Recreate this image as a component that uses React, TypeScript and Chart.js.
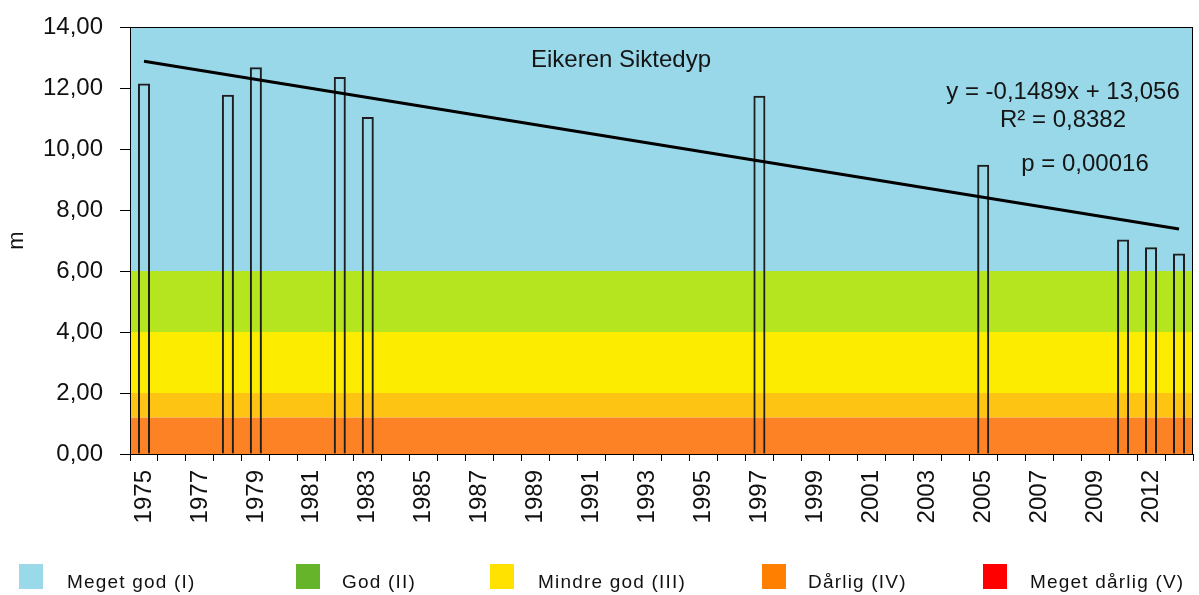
import React, { useEffect, useRef } from 'react';
import { Chart, registerables } from 'chart.js';

Chart.register(...registerables);

const years: string[] = [
  '1975', '1976', '1977', '1978', '1979', '1980', '1981', '1982', '1983', '1984',
  '1985', '1986', '1987', '1988', '1989', '1990', '1991', '1992', '1993', '1994',
  '1995', '1996', '1997', '1998', '1999', '2000', '2001', '2002', '2003', '2004',
  '2005', '2006', '2007', '2008', '2009', '2011', '2012', '2013',
];

const siktedyp: (number | null)[] = [
  12.15, null, null, 11.78, 12.68, null, null, 12.36, 11.05, null,
  null, null, null, null, null, null, null, null, null, null,
  null, null, 11.75, null, null, null, null, null, null, null,
  9.48, null, null, null, null, 7.03, 6.78, 6.57,
];

const trendline: (number | null)[] = [
  12.88, null, null, null, null, null, null, null, null, null,
  null, null, null, null, null, null, null, null, null, null,
  null, null, null, null, null, null, null, null, null, null,
  null, null, null, null, null, null, null, 7.38,
];

const yTicks: number[] = [0, 2, 4, 6, 8, 10, 12, 14];

const classLimits: number[] = [0, 1.2, 2, 4, 6, 14];
const bandColors: string[] = ['#fd8125', '#fdc414', '#fcec00', '#b4e51e', '#99d8e9'];

const legendLabels: string[] = ['Meget god (I)', 'God (II)', 'Mindre god (III)', 'Dårlig (IV)', 'Meget dårlig (V)'];
const legendColors: string[] = ['#99d9ea', '#66b42a', '#ffe200', '#ff8000', '#ff0000'];

const chartTitle = 'Eikeren Siktedyp';
const equationLines: string[] = ['y = -0,1489x + 13,056', 'R² = 0,8382', 'p = 0,00016'];

const FONT = '"Liberation Sans", Arial, sans-serif';

const bandPlugin = {
  id: 'bands',
  beforeDraw(chart: any) {
    const { ctx, chartArea: a, scales } = chart;
    const y = scales.y;
    ctx.save();
    for (let i = 0; i < bandColors.length; i++) {
      const top = y.getPixelForValue(classLimits[i + 1]);
      const bot = y.getPixelForValue(classLimits[i]);
      ctx.fillStyle = bandColors[i];
      ctx.fillRect(a.left, top, a.right - a.left, bot - top);
    }
    ctx.restore();
  },
};

const textPlugin = {
  id: 'texts',
  afterDatasetsDraw(chart: any) {
    const { ctx, chartArea: a } = chart;
    ctx.save();
    ctx.strokeStyle = '#000';
    ctx.lineWidth = 1;
    ctx.strokeRect(a.left + 0.5, a.top + 0.5, a.right - a.left - 1, a.bottom - a.top);
    ctx.fillStyle = '#151515';
    ctx.font = `24px ${FONT}`;
    ctx.textAlign = 'center';
    ctx.textBaseline = 'middle';
    ctx.fillText(chartTitle, 621, 60);
    ctx.fillText(equationLines[0], 1063, 92);
    ctx.fillText(equationLines[1], 1063, 120);
    ctx.fillText(equationLines[2], 1085, 164);
    ctx.restore();
  },
};

const legendPlugin = {
  id: 'customLegend',
  afterDraw(chart: any) {
    const { ctx } = chart;
    const boxX = [19, 296, 490, 762, 983];
    const textX = [67, 342, 538, 808, 1030];
    ctx.save();
    ctx.font = `19px ${FONT}`;
    (ctx as any).letterSpacing = '1.2px';
    ctx.textAlign = 'left';
    ctx.textBaseline = 'alphabetic';
    for (let i = 0; i < legendLabels.length; i++) {
      ctx.fillStyle = legendColors[i];
      ctx.fillRect(boxX[i], 564, 24, 25);
      ctx.fillStyle = '#111';
      ctx.fillText(legendLabels[i], textX[i], 588);
    }
    ctx.restore();
  },
};

export default function App() {
  const canvasRef = useRef<HTMLCanvasElement | null>(null);

  useEffect(() => {
    document.body.style.margin = '0';
    const canvas = canvasRef.current;
    if (!canvas) return;
    const chart = new Chart(canvas, {
      type: 'bar',
      data: {
        labels: years,
        datasets: [
          {
            type: 'line',
            label: 'Trend',
            data: trendline,
            borderColor: '#000',
            borderWidth: 3,
            pointRadius: 0,
            spanGaps: true,
            fill: false,
            order: 0,
          } as any,
          {
            type: 'bar',
            label: 'Siktedyp',
            data: siktedyp,
            backgroundColor: 'rgba(0,0,0,0)',
            borderColor: '#1e1e1e',
            borderWidth: 2,
            barPercentage: 0.43,
            categoryPercentage: 1,
            order: 1,
          } as any,
        ],
      },
      options: {
        animation: false,
        responsive: true,
        maintainAspectRatio: false,
        layout: { padding: { top: 27, right: 6, bottom: 0, left: 0 } },
        plugins: {
          legend: { display: false },
          tooltip: { enabled: false },
          title: { display: false },
        },
        scales: {
          x: {
            offset: true,
            grid: {
              offset: true,
              drawOnChartArea: false,
              drawTicks: true,
              tickLength: 7,
              color: '#000',
            },
            border: { display: true, color: '#000', width: 1 },
            ticks: {
              autoSkip: false,
              minRotation: 90,
              maxRotation: 90,
              padding: 9,
              color: '#111',
              font: { family: FONT, size: 24 },
              callback: (_v: any, i: number) => (i % 2 === 0 ? years[i] : ''),
            },
            afterFit: (scale: any) => {
              scale.height = 141;
              scale.paddingLeft = 0;
              scale.paddingRight = 0;
            },
          },
          y: {
            min: 0,
            max: 14,
            afterBuildTicks: (scale: any) => {
              scale.ticks = yTicks.map((v) => ({ value: v }));
            },
            grid: {
              drawOnChartArea: false,
              drawTicks: true,
              tickLength: 10,
              color: '#000',
            },
            border: { display: true, color: '#000', width: 1 },
            ticks: {
              padding: 17,
              color: '#111',
              font: { family: FONT, size: 24 },
              callback: (v: any) => Number(v).toFixed(2).replace('.', ','),
            },
            title: {
              display: true,
              text: 'm',
              color: '#111',
              font: { family: FONT, size: 22 },
              padding: { top: 4, bottom: 0 },
            },
            afterFit: (scale: any) => {
              scale.width = 130;
              scale.paddingTop = 0;
              scale.paddingBottom = 0;
            },
          },
        },
      },
      plugins: [bandPlugin, textPlugin, legendPlugin],
    });
    return () => chart.destroy();
  }, []);

  return (
    <div style={{ width: 1199, height: 595, position: 'relative' }}>
      <canvas ref={canvasRef} />
    </div>
  );
}
